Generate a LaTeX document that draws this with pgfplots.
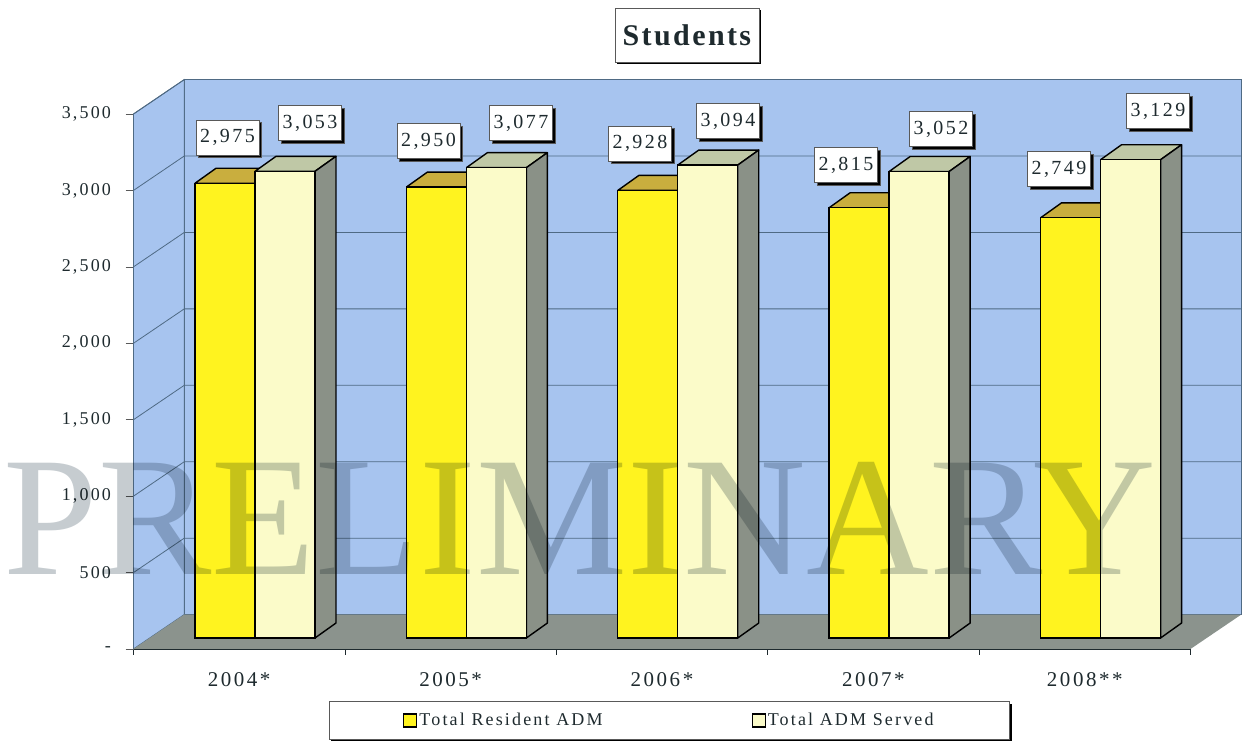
\documentclass[border=0pt]{standalone}
\usepackage{pgfplots}
\usepackage{pgfplotstable}
\usepackage{fontspec}
\pgfplotsset{compat=1.18}
\usetikzlibrary{shadows}
\setmainfont{Liberation Serif}
\newfontfamily\spaced[LetterSpace=12]{Liberation Serif}
\newfontfamily\wide[LetterSpace=12]{Liberation Serif}
\newfontfamily\titlefont[LetterSpace=8]{Liberation Serif Bold}
\definecolor{wallblue}{HTML}{A7C4EF}
\definecolor{floorgray}{HTML}{8B938D}
\definecolor{gridline}{HTML}{4F6A84}
\definecolor{inkdark}{HTML}{1E2A2E}
\definecolor{barA}{HTML}{FFF31F}
\definecolor{barAtop}{HTML}{C9AE3E}
\definecolor{barB}{HTML}{FBFBC9}
\definecolor{barBtop}{HTML}{BFC8A6}
\definecolor{barBside}{HTML}{8A9187}
\definecolor{stamp}{HTML}{C6CCD0}

% swatches inside the shadowed legend box carry no shadow of their own
\makeatletter
\tikzset{no shadow/.code={\let\tikz@preactions\pgfutil@empty}}
\makeatother

% x, value, label offset from the middle of the group's bar tops (pt)
\pgfplotstableread{
x   y     lx     ly
0.5 2975  -27.5  45.7
1.5 2950  -37.9  46.0
2.5 2928  -37.8  46.9
3.5 2815  -43.2  42.7
4.5 2749  -41.6  48.8
}\resident
\pgfplotstableread{
x   y     lx     ly
0.5 3053  55.0   48.3
1.5 3077  54.6   44.6
2.5 3094  50.2   44.0
3.5 3052  51.8   42.5
4.5 3129  57.4   48.7
}\served

\pgfplotsset{valuelabels/.style={
  nodes near coords,
  visualization depends on={\thisrow{lx} \as \lx},
  visualization depends on={\thisrow{ly} \as \ly},
  nodes near coords style={anchor=center,xshift=\lx pt,yshift=\ly pt,
    font=\spaced\fontsize{20}{20}\selectfont,text=inkdark,
    draw=gray!70!black,line width=0.6pt,fill=white,
    minimum width=63pt,minimum height=35pt,inner sep=0pt,
    general shadow={fill=black,shadow xshift=2.5pt,shadow yshift=-2.5pt},
    /pgf/number format/.cd,1000 sep={,},assume math mode=true},
}}

% depth of a bar, in axis units
\newcommand\bdx{0.0993}
\newcommand\bdy{98}
\newcommand\hw{0.2838}
% top face of the left bar of group #1, value #2
\newcommand\topA[2]{\addplot[forget plot,fill=barAtop,draw=black,line width=1.4pt,line join=round] coordinates
  {({#1-\hw},#2) ({#1-\hw+\bdx},{#2+\bdy}) ({#1+\bdx},{#2+\bdy}) (#1,#2) ({#1-\hw},#2)};}
% top and side faces of the right bar of group #1, value #2
\newcommand\topB[2]{\addplot[forget plot,fill=barBtop,draw=black,line width=1.4pt,line join=round] coordinates
  {(#1,#2) ({#1+\bdx},{#2+\bdy}) ({#1+\hw+\bdx},{#2+\bdy}) ({#1+\hw},#2) (#1,#2)};
  \addplot[forget plot,fill=barBside,draw=black,line width=1.4pt,line join=round] coordinates
  {({#1+\hw},0) ({#1+\hw+\bdx},\bdy) ({#1+\hw+\bdx},{#2+\bdy}) ({#1+\hw},#2) ({#1+\hw},0)};}

\begin{document}
\begin{tikzpicture}
\useasboundingbox (0,0) rectangle (1242pt,741pt);
% walls, floor, scale
\begin{axis}[
  at={(133.5pt,92pt)}, anchor=south west,
  scale only axis, width=1057pt, height=535pt,
  xmin=0, xmax=5, ymin=0, ymax=3500,
  clip=false,
  axis x line*=bottom, axis y line*=left,
  axis line style={-,draw=inkdark,line width=0.9pt},
  tick align=outside,
  ytick={0,500,1000,1500,2000,2500,3000,3500},
  yticklabels={-,500,{1,000},{1,500},{2,000},{2,500},{3,000},{3,500}},
  xtick={0.5,1.5,2.5,3.5,4.5},
  xticklabels={2004*,2005*,2006*,2007*,2008**},
  minor xtick={0,1,2,3,4,5},
  major tick length=8pt, minor tick length=6pt,
  major x tick style={draw=none},
  minor x tick style={draw=inkdark,line width=0.7pt},
  ytick style={draw=gray!70!black,line width=0.7pt},
  yticklabel style={font=\spaced\fontsize{18}{18}\selectfont,text=inkdark,xshift=-11pt},
  xticklabel style={font=\wide\fontsize{21}{21}\selectfont,text=inkdark,yshift=-12pt},
  title={\titlefont\fontsize{30}{30}\selectfont Students},
  title style={at={(0.5236,1.1365)},anchor=center,draw=gray!70!black,line width=0.7pt,fill=white,
    text=inkdark,minimum width=144pt,minimum height=54pt,inner sep=0pt,
    general shadow={fill=black,shadow xshift=2.5pt,shadow yshift=-2.5pt}},
]
  \addplot[fill=wallblue,draw=gridline,line width=0.9pt] coordinates
    {(0.24,225) (5.24,225) (5.24,3725) (0.24,3725) (0.24,225)};
  \addplot[fill=wallblue,draw=gridline,line width=0.9pt] coordinates
    {(0,0) (0.24,225) (0.24,3725) (0,3500) (0,0)};
  \addplot[fill=floorgray,draw=none] coordinates
    {(0,0) (0.24,225) (5.24,225) (5,0) (0,0)};
  \pgfplotsinvokeforeach{500,1000,1500,2000,2500,3000}{
    \addplot[draw=gridline,line width=0.8pt] coordinates {(0,#1) (0.24,{#1+225}) (5.24,{#1+225})};
  }
  \addplot[draw=gridline,line width=0.8pt] coordinates {(0,3500) (0.24,3725)};
\end{axis}
% bars stand a little inside the floor
\begin{axis}[
  at={(149.3pt,103pt)}, anchor=south west,
  scale only axis, width=1057pt, height=535pt,
  xmin=0, xmax=5, ymin=0, ymax=3500,
  clip=false, hide axis,
  legend style={at={(0.4921,-0.1542)},anchor=center,draw=gray!70!black,line width=0.7pt,fill=white,
    font=\spaced\fontsize{18}{18}\selectfont,text=inkdark,legend columns=2,
    inner xsep=74pt,inner ysep=10pt,
    /tikz/column 2/.style={column sep=147pt},
    general shadow={fill=black,shadow xshift=2pt,shadow yshift=-2pt}},
]
  \topA{0.5}{2975}\topA{1.5}{2950}\topA{2.5}{2928}\topA{3.5}{2815}\topA{4.5}{2749}
  \topB{0.5}{3053}\topB{1.5}{3077}\topB{2.5}{3094}\topB{3.5}{3052}\topB{4.5}{3129}
  \addplot[ybar,valuelabels,bar width=60pt,bar shift=-30pt,fill=barA,draw=black,line width=1.4pt,
    legend image code/.code={\draw[no shadow,fill=barA,draw=black,line width=1.2pt] (0pt,-6.5pt) rectangle (13pt,6.5pt);}]
    table[x=x,y=y] {\resident};
  \addlegendentry{Total Resident ADM}
  \addplot[ybar,valuelabels,bar width=60pt,bar shift=30pt,fill=barB,draw=black,line width=1.4pt,
    legend image code/.code={\draw[no shadow,fill=barB,draw=black,line width=1.2pt] (0pt,-6.5pt) rectangle (13pt,6.5pt);}]
    table[x=x,y=y] {\served};
  \addlegendentry{Total ADM Served}
\end{axis}
% stamp across the chart
\begin{scope}[blend mode=multiply]
  \node[anchor=center,text=stamp,inner sep=0pt,
    font=\fontsize{170}{170}\selectfont] at (580pt,223pt) {PRELIMINARY};
\end{scope}
\end{tikzpicture}
\end{document}
